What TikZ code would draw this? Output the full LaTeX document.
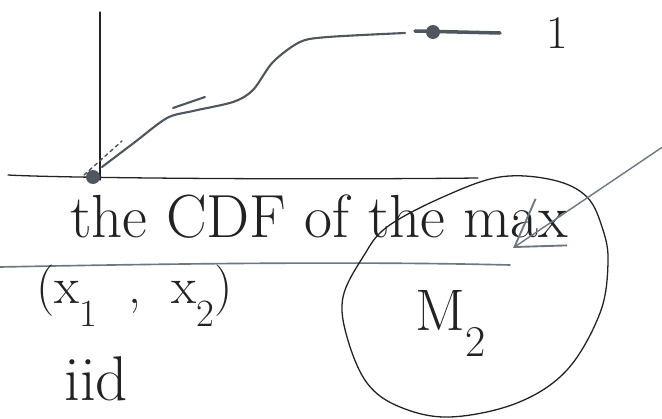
\documentclass[tikz,border=0pt]{standalone}
\usepackage{fontspec}
\usetikzlibrary{arrows.meta}
\definecolor{ink}{HTML}{222222}
\definecolor{graphite}{HTML}{4F565E}
\definecolor{bluepen}{HTML}{6A7884}
\newcommand{\lowsub}[1]{\raisebox{-0.45em}{\scalebox{0.75}{#1}}}

\begin{document}
\begin{tikzpicture}[x=0.03cm, y=-0.03cm,
  axis/.style={draw=ink, line width=1.1pt, line cap=round},
  curve/.style={draw=graphite, line width=1.8pt, line cap=round},
  pen/.style={draw=bluepen, line width=1.4pt, line cap=round},
  hand/.style={text=ink, inner sep=0pt, anchor=base west},
  pointer/.style={draw=bluepen, line width=1.2pt,
    -{Straight Barb[length=38pt, width=48pt, line width=1.6pt]}}
]
\useasboundingbox (0,0) rectangle (662,419);
% axes
\draw[axis] (100,12) -- (100,180);
\draw[axis] (8,175) .. controls (60,178) and (300,180) .. (478,178);
\fill[graphite] (93,177) circle (7);
% cdf going up to 1
\draw[curve, dashed, line width=1.2pt] (84,175) -- (122,141);
\draw[curve] plot[smooth, tension=0.5] coordinates {(102,167) (135,142) (167,118) (193,111) (233,102) (253,90) (273,62) (300,42) (328,37) (405,33)};
\draw[curve] (173,108) -- (205,97);
\draw[curve, line width=3pt] (415,31) -- (500,33);
\fill[graphite] (433,32) circle (7);
\node[hand] (one) at (546,48) {\fontsize{40}{44}\selectfont 1};
% caption + underline
\node[hand] (title) at (70,237) {\fontsize{52}{56}\selectfont the CDF of the max};
\draw[pen] (0,267) .. controls (150,264) and (350,261) .. (510,265);
\node[hand] (pair) at (36,303) {\fontsize{44}{48}\selectfont (x\lowsub{1}\hspace{0.6em},\hspace{0.6em}x\lowsub{2})};
\node[hand] (iid) at (64,400) {\fontsize{54}{58}\selectfont iid};
% the max, circled
\node[hand] (maxvar) at (415,330) {\fontsize{50}{54}\selectfont M\lowsub{2}};
\draw[axis] plot[smooth cycle, tension=0.6] coordinates {(363,257) (387,227) (443,197) (500,177) (553,180) (587,197) (603,230) (608,263) (600,313) (567,370) (517,403) (450,417) (400,407) (367,383) (347,337) (343,297)};
\coordinate (arrowfrom) at (664,146);
\coordinate (arrowto) at (513,248);
\draw[pointer] (arrowfrom) -- (arrowto);
\end{tikzpicture}
\end{document}
